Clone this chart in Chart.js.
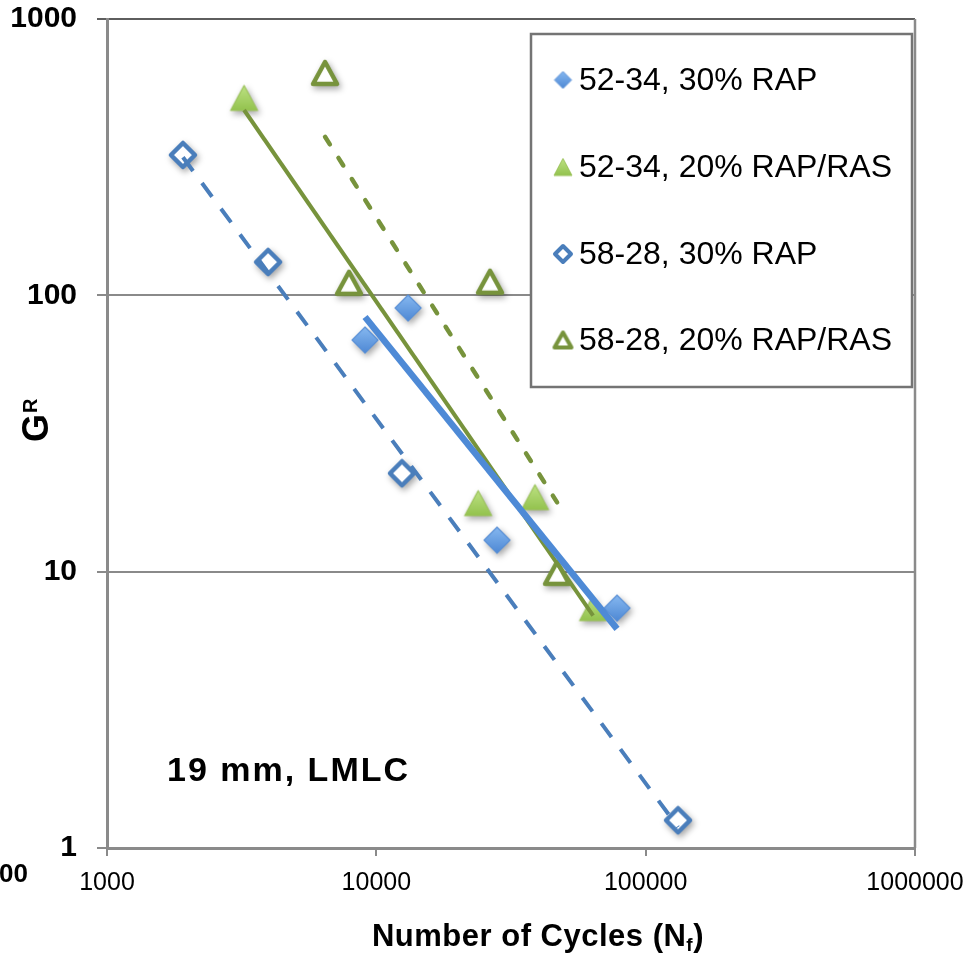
<!DOCTYPE html>
<html>
<head>
<meta charset="utf-8">
<script src="https://cdn.jsdelivr.net/npm/chart.js@4.4.1/dist/chart.umd.min.js"></script>
<style>
  html, body { margin: 0; padding: 0; background: #fff; }
  #wrap { width: 970px; height: 958px; position: relative; }
</style>
</head>
<body>
<div id="wrap"><canvas id="chart"></canvas></div>
<script>
// values
const xTicks = [1000, 10000, 100000, 1000000];
const yTicks = [1, 10, 100, 1000];
const seriesNames = ['52-34, 30% RAP', '52-34, 20% RAP/RAS', '58-28, 30% RAP', '58-28, 20% RAP/RAS'];
const cycles5234_30 = [9080, 13120, 28060, 78300];
const gr5234_30 = [68.9, 90.0, 13.0, 7.38];
const cycles5234_20 = [3228, 23880, 38810, 63800];
const gr5234_20 = [518, 17.7, 18.6, 7.38];
const cycles5828_30 = [1914, 3963, 12450, 131900];
const gr5828_30 = [322, 132, 22.7, 1.26];
const cycles5828_20 = [6450, 7917, 26430, 46900];
const gr5828_20 = [638, 111, 112, 9.9];

const FONT = '"Liberation Sans", Arial, Helvetica, sans-serif';

function pts(xs, ys) {
  return xs.map((x, i) => ({x: x, y: ys[i]}));
}

// power trendline (least squares in log-log), like the spreadsheet trendline
function powerTrend(xs, ys) {
  const lx = xs.map(Math.log10), ly = ys.map(Math.log10);
  const n = lx.length;
  const mx = lx.reduce((a, b) => a + b, 0) / n;
  const my = ly.reduce((a, b) => a + b, 0) / n;
  let sxy = 0, sxx = 0;
  for (let i = 0; i < n; i++) {
    sxy += (lx[i] - mx) * (ly[i] - my);
    sxx += (lx[i] - mx) * (lx[i] - mx);
  }
  const b = sxy / sxx, a = my - b * mx;
  const x0 = Math.min(...xs), x1 = Math.max(...xs);
  return [x0, x1].map(x => ({x: x, y: Math.pow(10, a + b * Math.log10(x))}));
}

// marker images, centred on their bounding box
function makeMarker(shape, w, h, fill, stroke, lw) {
  const pad = Math.ceil(lw) + 2;
  const c = document.createElement('canvas');
  c.width = w + pad * 2;
  c.height = h + pad * 2;
  const g = c.getContext('2d');
  const cx = c.width / 2, cy = c.height / 2;
  g.beginPath();
  if (shape === 'diamond') {
    g.moveTo(cx, cy - h / 2);
    g.lineTo(cx + w / 2, cy);
    g.lineTo(cx, cy + h / 2);
    g.lineTo(cx - w / 2, cy);
  } else {
    g.moveTo(cx, cy - h / 2);
    g.lineTo(cx + w / 2, cy + h / 2);
    g.lineTo(cx - w / 2, cy + h / 2);
  }
  g.closePath();
  if (Array.isArray(fill)) {
    const grad = g.createLinearGradient(0, cy - h / 2, 0, cy + h / 2);
    grad.addColorStop(0, fill[0]);
    grad.addColorStop(1, fill[1]);
    g.fillStyle = grad;
  } else {
    g.fillStyle = fill;
  }
  g.fill();
  g.lineJoin = 'round';
  g.strokeStyle = stroke;
  g.lineWidth = lw;
  g.stroke();
  return c;
}

const mk = {
  diamond: makeMarker('diamond', 26, 26, ['#86B8F0', '#4E88D4'], '#5A90D6', 1.2),
  triangle: makeMarker('triangle', 27, 25, ['#BDE283', '#93C24E'], '#9BC25A', 1.2),
  hollowDiamond: makeMarker('diamond', 24, 24, '#ffffff', '#4A7EBB', 4.5),
  hollowTriangle: makeMarker('triangle', 24, 22, '#ffffff', '#77933C', 4.5)
};
const legendMk = [
  makeMarker('diamond', 17, 17, ['#86B8F0', '#4E88D4'], '#5A90D6', 1),
  makeMarker('triangle', 18, 17, ['#BDE283', '#93C24E'], '#9BC25A', 1),
  makeMarker('diamond', 16, 16, '#ffffff', '#4A7EBB', 4),
  makeMarker('triangle', 17, 15, '#ffffff', '#77933C', 4)
];

const markerSets = [
  {label: seriesNames[0], data: pts(cycles5234_30, gr5234_30), pointStyle: mk.diamond},
  {label: seriesNames[1], data: pts(cycles5234_20, gr5234_20), pointStyle: mk.triangle},
  {label: seriesNames[2], data: pts(cycles5828_30, gr5828_30), pointStyle: mk.hollowDiamond},
  {label: seriesNames[3], data: pts(cycles5828_20, gr5828_20), pointStyle: mk.hollowTriangle}
].map(d => Object.assign(d, {order: 2, pointRadius: 13, pointHoverRadius: 13, isMarker: true}));

const trendSets = [
  {data: powerTrend(cycles5234_30, gr5234_30), borderColor: '#4E8AD6', borderWidth: 6.5, borderDash: []},
  {data: powerTrend(cycles5234_20, gr5234_20), borderColor: '#77933C', borderWidth: 4, borderDash: []},
  {data: powerTrend(cycles5828_30, gr5828_30), borderColor: '#4A7EBB', borderWidth: 4, borderDash: [17, 15]},
  {data: powerTrend(cycles5828_20, gr5828_20), borderColor: '#77933C', borderWidth: 4.5, borderDash: [9, 16], borderCapStyle: 'round'}
].map(d => Object.assign(d, {label: 'trend', order: 1, showLine: true, pointRadius: 0, pointHoverRadius: 0, fill: false}));

const shadowPlugin = {
  id: 'markerShadow',
  beforeDatasetDraw(chart, args) {
    if (!chart.data.datasets[args.index].isMarker) return;
    const ctx = chart.ctx;
    ctx.save();
    ctx.shadowColor = 'rgba(0,0,0,0.35)';
    ctx.shadowBlur = 6;
    ctx.shadowOffsetX = 2;
    ctx.shadowOffsetY = 3;
  },
  afterDatasetDraw(chart, args) {
    if (!chart.data.datasets[args.index].isMarker) return;
    chart.ctx.restore();
  }
};

const decorPlugin = {
  id: 'decor',
  afterDraw(chart) {
    const ctx = chart.ctx;
    const a = chart.chartArea;
    ctx.save();

    // right frame line
    ctx.strokeStyle = '#8A8A8A';
    ctx.lineWidth = 2.5;
    ctx.beginPath();
    ctx.moveTo(a.right, a.top);
    ctx.lineTo(a.right, a.bottom);
    ctx.stroke();

    // legend box
    const bx = 531, by = 34, bw = 381, bh = 353;
    ctx.fillStyle = '#ffffff';
    ctx.fillRect(bx, by, bw, bh);
    ctx.strokeStyle = '#747474';
    ctx.lineWidth = 2.5;
    ctx.strokeRect(bx, by, bw, bh);
    const rowY = [80, 167, 254, 340];
    ctx.font = '32px ' + FONT;
    ctx.fillStyle = '#000';
    ctx.textAlign = 'left';
    ctx.textBaseline = 'middle';
    seriesNames.forEach((name, i) => {
      const m = legendMk[i];
      ctx.drawImage(m, 563 - m.width / 2, rowY[i] - m.height / 2);
      ctx.fillText(name, 579, rowY[i] + 1);
    });

    // annotation
    ctx.font = 'bold 34px ' + FONT;
    ctx.letterSpacing = '2px';
    ctx.fillText('19 mm, LMLC', 167, 772);

    // x axis title with subscript
    ctx.letterSpacing = '0.5px';
    ctx.textBaseline = 'alphabetic';
    const main = 'Number of Cycles (N';
    ctx.font = 'bold 31px ' + FONT;
    const w1 = ctx.measureText(main).width;
    const w3 = ctx.measureText(')').width;
    ctx.font = 'bold 19px ' + FONT;
    const w2 = ctx.measureText('f').width;
    let tx = 538 - (w1 + w2 + w3) / 2;
    const base = 946;
    ctx.font = 'bold 31px ' + FONT;
    ctx.fillText(main, tx, base);
    ctx.font = 'bold 19px ' + FONT;
    ctx.fillText('f', tx + w1, base + 5);
    ctx.font = 'bold 31px ' + FONT;
    ctx.fillText(')', tx + w1 + w2, base);
    ctx.letterSpacing = '0px';

    // y axis title G^R
    ctx.save();
    ctx.translate(48, 442);
    ctx.rotate(-Math.PI / 2);
    ctx.font = 'bold 36px ' + FONT;
    const gw = ctx.measureText('G').width;
    ctx.fillText('G', 0, 0);
    ctx.font = 'bold 20px ' + FONT;
    ctx.fillText('R', gw + 1, -11);
    ctx.restore();

    // clipped label from the neighbouring panel
    ctx.font = 'bold 26px ' + FONT;
    ctx.textAlign = 'right';
    ctx.textBaseline = 'middle';
    ctx.fillText('100', 28, 875);

    ctx.restore();
  }
};

new Chart(document.getElementById('chart'), {
  type: 'scatter',
  data: {datasets: trendSets.concat(markerSets)},
  options: {
    responsive: true,
    maintainAspectRatio: false,
    animation: false,
    events: [],
    layout: {padding: {left: 0, right: 55, top: 19, bottom: 0}},
    plugins: {legend: {display: false}, tooltip: {enabled: false}},
    scales: {
      x: {
        type: 'logarithmic',
        min: xTicks[0],
        max: xTicks[xTicks.length - 1],
        afterFit: s => { s.height = 110; s.paddingLeft = 0; s.paddingRight = 0; },
        afterBuildTicks: s => { s.ticks = xTicks.map(v => ({value: v, major: true})); },
        border: {display: true, color: '#8A8A8A', width: 3},
        grid: {drawOnChartArea: false, drawTicks: true, tickLength: 8, color: '#8A8A8A', lineWidth: 2},
        ticks: {
          autoSkip: false, maxRotation: 0, padding: 12, color: '#000',
          font: {family: FONT, size: 25},
          callback: v => String(v)
        }
      },
      y: {
        type: 'logarithmic',
        min: yTicks[0],
        max: yTicks[yTicks.length - 1],
        afterFit: s => { s.width = 107; s.paddingTop = 0; s.paddingBottom = 0; },
        afterBuildTicks: s => { s.ticks = yTicks.map(v => ({value: v, major: true})); },
        border: {display: true, color: '#8A8A8A', width: 3},
        grid: {
          drawTicks: true, tickLength: 10, lineWidth: 2,
          color: c => (c.tick && c.tick.value === 1000) ? '#5E5E5E' : '#8A8A8A'
        },
        ticks: {
          padding: 20, color: '#000',
          font: {family: FONT, size: 30, weight: 'bold'},
          callback: v => String(v)
        }
      }
    }
  },
  plugins: [shadowPlugin, decorPlugin]
});
</script>
</body>
</html>
